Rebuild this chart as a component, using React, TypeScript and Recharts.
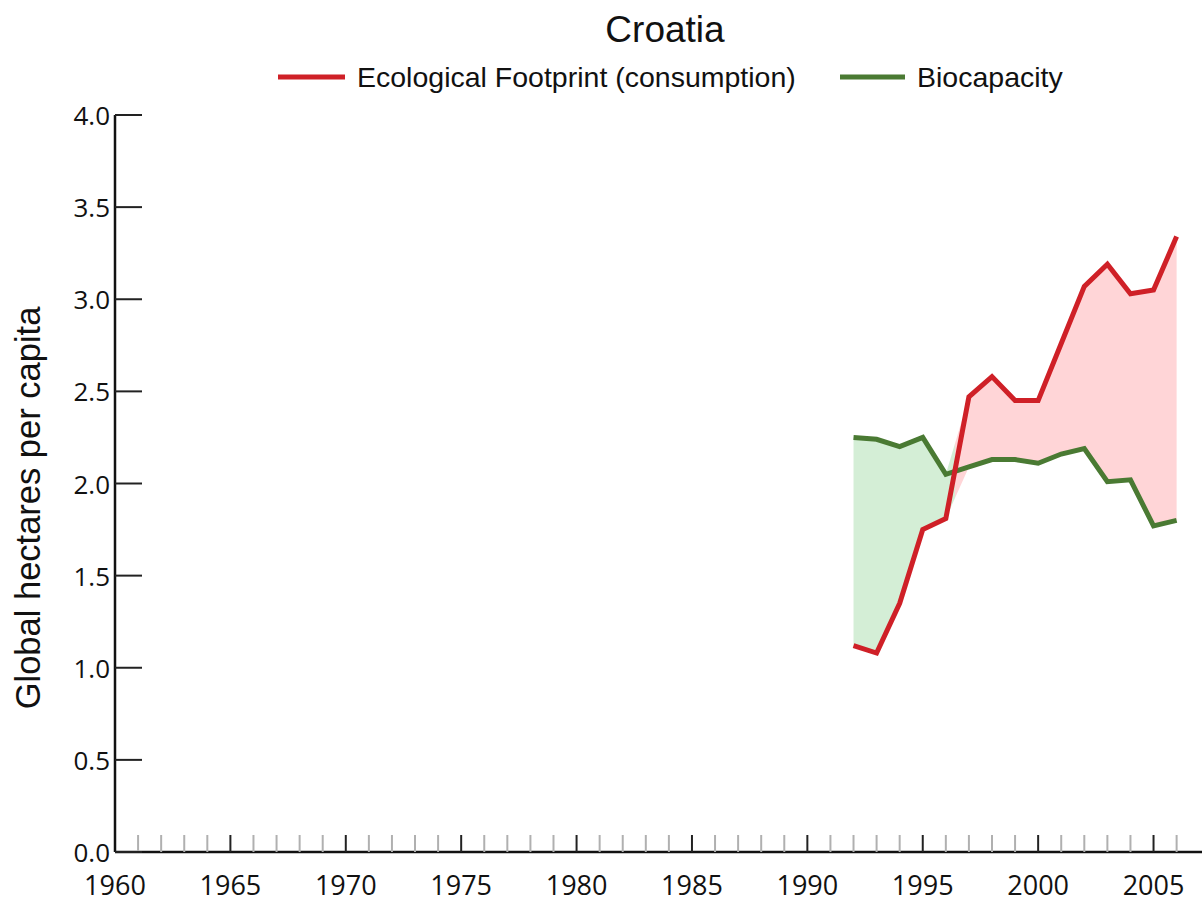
import React from 'react';
import { ComposedChart, Line, Area, XAxis, YAxis } from 'recharts';

const years = [1992, 1993, 1994, 1995, 1996, 1997, 1998, 1999, 2000, 2001, 2002, 2003, 2004, 2005, 2006];
const footprint = [1.12, 1.08, 1.35, 1.75, 1.81, 2.47, 2.58, 2.45, 2.45, 2.76, 3.07, 3.19, 3.03, 3.05, 3.34];
const biocapacity = [2.25, 2.24, 2.20, 2.25, 2.05, 2.09, 2.13, 2.13, 2.11, 2.16, 2.19, 2.01, 2.02, 1.77, 1.80];
const yTicks = [0, 0.5, 1, 1.5, 2, 2.5, 3, 3.5, 4];
const xTicks = Array.from({ length: 47 }, (_, i) => 1960 + i);
const xLabels = [1960, 1965, 1970, 1975, 1980, 1985, 1990, 1995, 2000, 2005];

const RED = '#cf2027';
const GREEN = '#4a7a33';
const RED_FILL = '#ffd5d7';
const GREEN_FILL = '#d4eed6';
const FONT = '"Liberation Sans", Arial, sans-serif';
const TICK_FONT = '"Open Sans", "Liberation Sans", sans-serif';

const data = years.map((y, i) => ({
  year: y,
  footprint: footprint[i],
  biocapacity: biocapacity[i],
  band: [Math.min(footprint[i], biocapacity[i]), Math.max(footprint[i], biocapacity[i])],
}));

// where footprint crosses biocapacity, as a fraction of the band's horizontal extent
let crossOffset = 0;
for (let i = 1; i < years.length; i++) {
  const d0 = footprint[i - 1] - biocapacity[i - 1];
  const d1 = footprint[i] - biocapacity[i];
  if (d0 < 0 && d1 >= 0) {
    const t = -d0 / (d1 - d0);
    const xCross = years[i - 1] + t * (years[i] - years[i - 1]);
    crossOffset = (xCross - years[0]) / (years[years.length - 1] - years[0]);
    break;
  }
}

const XTick = (props: any) => {
  const { x, y, payload } = props;
  const v = payload.value as number;
  const major = xLabels.includes(v);
  return (
    <g>
      {v !== 1960 && (
        <line x1={x} x2={x} y1={y} y2={y - 17} stroke={major ? '#222' : '#b0b0b0'} strokeWidth={2} />
      )}
      {major && (
        <text x={x} y={y + 43} textAnchor="middle" fontSize={27} fontFamily={TICK_FONT} fill="#111">
          {v}
        </text>
      )}
    </g>
  );
};

const YTick = (props: any) => {
  const { x, y, payload } = props;
  const v = payload.value as number;
  return (
    <g>
      <line x1={x} x2={x + 27} y1={y} y2={y} stroke="#222" strokeWidth={2} />
      <text x={x - 5} y={y + 10} textAnchor="end" fontSize={26} fontFamily={TICK_FONT} fill="#111">
        {v.toFixed(1)}
      </text>
    </g>
  );
};

export default function App() {
  return (
    <div style={{ position: 'absolute', left: 0, top: 0, width: 1202, height: 904, background: '#fff' }}>
      <ComposedChart width={1202} height={904} data={data} margin={{ top: 115, right: 0, bottom: 0, left: 0 }}>
        <defs>
          <linearGradient id="gapFill" x1="0" y1="0" x2="1" y2="0">
            <stop offset={crossOffset} stopColor={GREEN_FILL} />
            <stop offset={crossOffset} stopColor={RED_FILL} />
          </linearGradient>
        </defs>
        <XAxis
          dataKey="year"
          type="number"
          domain={[1960, 2007.1]}
          ticks={xTicks}
          interval={0}
          height={52}
          tickSize={0}
          tickMargin={0}
          tickLine={false}
          tick={<XTick />}
          axisLine={{ stroke: '#111', strokeWidth: 2.5 }}
        />
        <YAxis
          type="number"
          domain={[0, 4]}
          ticks={yTicks}
          interval={0}
          width={115}
          tickSize={0}
          tickMargin={0}
          tickLine={false}
          tick={<YTick />}
          axisLine={{ stroke: '#111', strokeWidth: 2.5 }}
        />
        <Area
          dataKey="band"
          type="linear"
          stroke="none"
          fill="url(#gapFill)"
          fillOpacity={1}
          isAnimationActive={false}
        />
        <Line dataKey="biocapacity" type="linear" stroke={GREEN} strokeWidth={5} dot={false} isAnimationActive={false} />
        <Line dataKey="footprint" type="linear" stroke={RED} strokeWidth={5} dot={false} isAnimationActive={false} />
      </ComposedChart>
      <svg width={1202} height={904} style={{ position: 'absolute', left: 0, top: 0, pointerEvents: 'none' }}>
        <text x={665} y={42} textAnchor="middle" fontSize={37} fontFamily={FONT} fill="#111">
          Croatia
        </text>
        <line x1={278} x2={345} y1={77} y2={77} stroke={RED} strokeWidth={5} />
        <text x={357} y={87} fontSize={28.5} fontFamily={FONT} fill="#111">
          Ecological Footprint (consumption)
        </text>
        <line x1={840} x2={905} y1={77} y2={77} stroke={GREEN} strokeWidth={5} />
        <text x={917} y={87} fontSize={28.5} fontFamily={FONT} fill="#111">
          Biocapacity
        </text>
        <text
          x={0}
          y={0}
          transform="translate(40 508) rotate(-90)"
          textAnchor="middle"
          fontSize={34.5}
          fontFamily={FONT}
          fill="#111"
        >
          Global hectares per capita
        </text>
      </svg>
    </div>
  );
}
